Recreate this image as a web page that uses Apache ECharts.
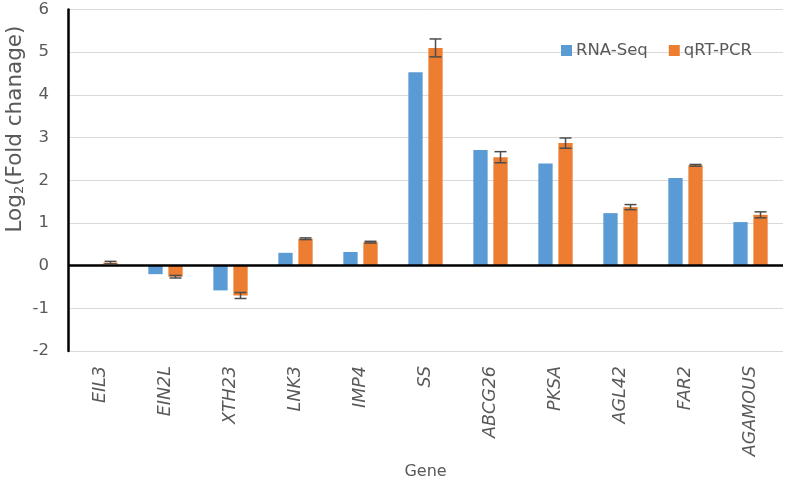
<!DOCTYPE html>
<html>
<head>
<meta charset="utf-8">
<script src="https://cdn.jsdelivr.net/npm/echarts@6/dist/echarts.min.js"></script>
<style>
html,body{margin:0;padding:0;background:#fff;}
#chart{width:786px;height:484px;}
</style>
</head>
<body>
<div id="chart"></div>
<script>
var categories = ['EIL3','EIN2L','XTH23','LNK3','IMP4','SS','ABCG26','PKSA','AGL42','FAR2','AGAMOUS'];
var rnaSeq = [0, -0.2, -0.58, 0.3, 0.32, 4.53, 2.71, 2.39, 1.23, 2.05, 1.02];
var qrtPcr = [0.07, -0.26, -0.7, 0.63, 0.55, 5.1, 2.54, 2.87, 1.37, 2.35, 1.19];
var qrtErr = [0.03, 0.03, 0.07, 0.02, 0.02, 0.21, 0.13, 0.12, 0.06, 0.02, 0.07];
var yTicks = [-2, -1, 0, 1, 2, 3, 4, 5, 6];

var FONT = 'DejaVu Sans';
var GRAY = '#595959';
var BAR_W = 0.22, BAR_GAP = 0.4;

var errData = categories.map(function (c, i) {
  return [i, qrtPcr[i] - qrtErr[i], qrtPcr[i] + qrtErr[i]];
});

var chart = echarts.init(document.getElementById('chart'), null, {renderer: 'canvas'});
chart.setOption({
  animation: false,
  textStyle: {fontFamily: FONT},
  grid: {left: 68, right: 3, top: 9.5, bottom: 133, containLabel: false, outerBoundsMode: 'none'},
  legend: {
    data: ['RNA-Seq', 'qRT-PCR'],
    left: 556, top: 37,
    icon: 'rect', itemWidth: 11, itemHeight: 11, itemGap: 21,
    textStyle: {color: GRAY, fontSize: 16.5, fontFamily: FONT, padding: [0, 0, 0, -1]}
  },
  xAxis: {
    type: 'category',
    data: categories,
    axisLine: {show: false, onZero: false},
    axisTick: {show: false},
    axisLabel: {rotate: 90, margin: 15, color: GRAY, fontSize: 17.5, fontStyle: 'italic', fontFamily: FONT, interval: 0},
    name: 'Gene',
    nameLocation: 'middle',
    nameGap: 113,
    nameTextStyle: {color: GRAY, fontSize: 16, fontFamily: FONT}
  },
  yAxis: {
    type: 'value',
    min: yTicks[0], max: yTicks[yTicks.length - 1], interval: 1,
    axisLine: {show: true, lineStyle: {color: '#000', width: 2.5}},
    axisTick: {show: false},
    axisLabel: {margin: 19, color: GRAY, fontSize: 16.5, fontFamily: FONT},
    splitLine: {lineStyle: {color: '#d9d9d9', width: 1}}
  },
  graphic: [{
    type: 'text',
    x: 15, y: 129,
    rotation: Math.PI / 2,
    style: {
      text: 'Log{sub|2}(Fold chanage)',
      fill: GRAY,
      font: '21.5px "DejaVu Sans"',
      align: 'center',
      verticalAlign: 'middle',
      rich: {sub: {fontSize: 13, fill: GRAY, fontFamily: FONT, padding: [10, 0, 0, 0]}}
    }
  }],
  series: [
    {
      name: 'RNA-Seq', type: 'bar', data: rnaSeq,
      barWidth: (BAR_W * 100) + '%', barGap: (BAR_GAP * 100) + '%',
      itemStyle: {color: '#5B9BD5'},
      markLine: {
        silent: true, symbol: 'none', label: {show: false},
        lineStyle: {color: '#000', width: 2.5, type: 'solid'},
        data: [{yAxis: 0}]
      }
    },
    {
      name: 'qRT-PCR', type: 'bar', data: qrtPcr,
      barWidth: (BAR_W * 100) + '%',
      itemStyle: {color: '#ED7D31'}
    },
    {
      name: 'err', type: 'custom', data: errData, z: 5,
      renderItem: function (params, api) {
        var i = api.value(0);
        var lo = api.coord([i, api.value(1)]);
        var hi = api.coord([i, api.value(2)]);
        var bw = api.size([1, 0])[0];
        var off = bw * BAR_W * (1 + BAR_GAP) / 2;
        var x = lo[0] + off;
        var cap = 6;
        var st = {stroke: '#4d4d4d', lineWidth: 1.5};
        return {
          type: 'group',
          children: [
            {type: 'line', shape: {x1: x, y1: lo[1], x2: x, y2: hi[1]}, style: st},
            {type: 'line', shape: {x1: x - cap, y1: lo[1], x2: x + cap, y2: lo[1]}, style: st},
            {type: 'line', shape: {x1: x - cap, y1: hi[1], x2: x + cap, y2: hi[1]}, style: st}
          ]
        };
      }
    }
  ]
});
</script>
</body>
</html>
